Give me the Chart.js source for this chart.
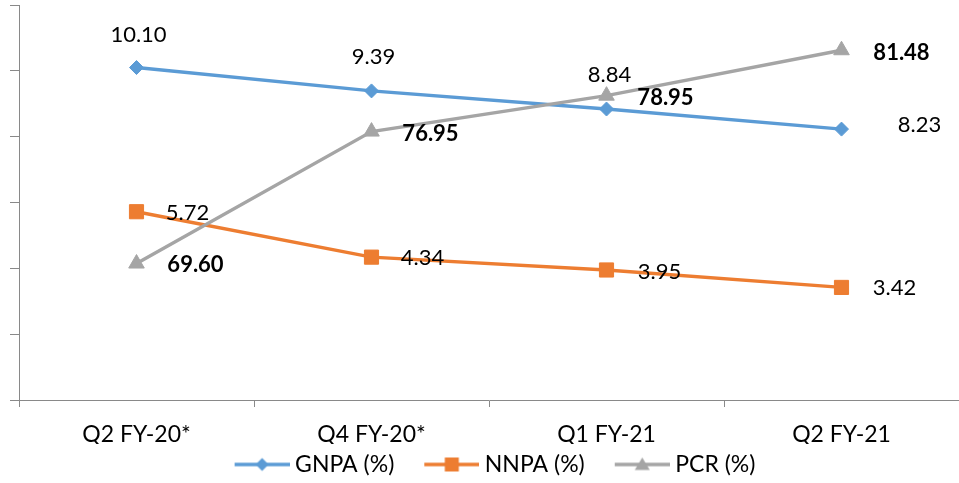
<!DOCTYPE html>
<html>
<head>
<meta charset="utf-8">
<script src="https://cdn.jsdelivr.net/npm/chart.js@4.4.1/dist/chart.umd.min.js"></script>
<style>
  html, body { margin: 0; padding: 0; background: #fff; }
  #wrap { width: 959px; height: 483px; }
</style>
</head>
<body>
<div id="wrap"><canvas id="chart" width="959" height="483"></canvas></div>
<script>
// Quarterly asset-quality figures
const categories = ['Q2 FY-20*', 'Q4 FY-20*', 'Q1 FY-21', 'Q2 FY-21'];
const gnpa = [10.10, 9.39, 8.84, 8.23];
const nnpa = [5.72, 4.34, 3.95, 3.42];
const pcr = [69.60, 76.95, 78.95, 81.48];

const BLUE = '#5B9BD5';
const ORANGE = '#ED7D31';
const GREY = '#A5A5A5';
const AXIS = '#898989';
const FONT = 'Lato, "Open Sans", sans-serif';

// Legend swatch: a short line with the series marker in its middle
function makeSwatch(color, shape) {
  const c = document.createElement('canvas');
  c.width = 82; c.height = 18;
  const g = c.getContext('2d');
  const x0 = 27, x1 = 82, cy = 9, cx = (x0 + x1) / 2;
  g.strokeStyle = color; g.lineWidth = 3.3;
  g.beginPath(); g.moveTo(x0, cy); g.lineTo(x1, cy); g.stroke();
  g.fillStyle = color;
  g.beginPath();
  if (shape === 'diamond') {
    g.moveTo(cx - 6.5, cy); g.lineTo(cx, cy - 6.5); g.lineTo(cx + 6.5, cy); g.lineTo(cx, cy + 6.5);
  } else if (shape === 'square') {
    g.rect(cx - 7, cy - 7, 14, 14);
  } else {
    g.moveTo(cx, cy - 7); g.lineTo(cx + 7.5, cy + 5.5); g.lineTo(cx - 7.5, cy + 5.5);
  }
  g.closePath(); g.fill();
  return c;
}
const swatches = [makeSwatch(BLUE, 'diamond'), makeSwatch(ORANGE, 'square'), makeSwatch(GREY, 'triangle')];

// Value labels placed beside each marker
const valueLabels = {
  id: 'valueLabels',
  afterDatasetsDraw(chart, args, opts) {
    const ctx = chart.ctx;
    chart.data.datasets.forEach((ds, i) => {
      const meta = chart.getDatasetMeta(i);
      const offs = opts.offsets[i];
      ctx.save();
      ctx.font = (opts.bold[i] ? 'bold ' : '') + '22px ' + FONT;
      ctx.fillStyle = '#000';
      ctx.textAlign = 'center';
      ctx.textBaseline = 'middle';
      meta.data.forEach((pt, j) => {
        ctx.fillText(ds.data[j].toFixed(2), pt.x + offs[j][0], pt.y + offs[j][1]);
      });
      ctx.restore();
    });
  }
};

new Chart(document.getElementById('chart'), {
  type: 'line',
  data: {
    labels: categories,
    datasets: [
      {
        label: 'GNPA (%)', data: gnpa, yAxisID: 'y', order: 2,
        borderColor: BLUE, backgroundColor: BLUE, borderWidth: 3.4,
        pointStyle: 'rectRot', pointRadius: 7, pointBorderWidth: 1,
        pointBackgroundColor: BLUE, pointBorderColor: BLUE
      },
      {
        label: 'NNPA (%)', data: nnpa, yAxisID: 'y', order: 1,
        borderColor: ORANGE, backgroundColor: ORANGE, borderWidth: 3.4,
        pointStyle: 'rect', pointRadius: 10, pointBorderWidth: 1,
        pointBackgroundColor: ORANGE, pointBorderColor: ORANGE
      },
      {
        label: 'PCR (%)', data: pcr, yAxisID: 'y1', order: 0,
        borderColor: GREY, backgroundColor: GREY, borderWidth: 3.4,
        pointStyle: 'triangle', pointRadius: 9, pointBorderWidth: 1,
        pointBackgroundColor: GREY, pointBorderColor: GREY
      }
    ]
  },
  options: {
    responsive: false,
    animation: false,
    layout: { autoPadding: false, padding: { left: 10, right: 0, top: 5, bottom: -3 } },
    scales: {
      x: {
        offset: true,
        grid: { offset: true, drawOnChartArea: false, drawTicks: true, tickLength: 7, color: AXIS },
        border: { color: AXIS, width: 1 },
        ticks: { color: '#000', padding: 20, font: { family: FONT, size: 23, lineHeight: '16px' }, maxRotation: 0 },
        afterFit(scale) { scale.height = 44; }
      },
      y: {
        position: 'left',
        min: 0, max: 12,
        ticks: { stepSize: 2, display: false },
        grid: { drawOnChartArea: false, drawTicks: true, tickLength: 9, color: AXIS },
        border: { color: AXIS, width: 1 }
      },
      y1: {
        position: 'right',
        display: false,
        min: 62, max: 84
      }
    },
    plugins: {
      tooltip: { enabled: false },
      legend: {
        position: 'bottom',
        labels: {
          usePointStyle: true,
          pointStyleWidth: 70,
          padding: 9,
          color: '#000',
          font: { family: FONT, size: 23 },
          sort: (a, b) => a.datasetIndex - b.datasetIndex,
          generateLabels(chart) {
            const items = Chart.defaults.plugins.legend.labels.generateLabels(chart);
            items.forEach(it => { it.pointStyle = swatches[it.datasetIndex]; });
            return items;
          }
        }
      },
      valueLabels: {
        bold: [false, false, true],
        offsets: [
          [[2, -33], [2, -34], [3, -34], [78, -4]],
          [[51, 1], [51, 1], [53, 2], [53, 0]],
          [[59, 1], [59, 2], [59, 2], [60, 3]]
        ]
      }
    }
  },
  plugins: [valueLabels]
});
</script>
</body>
</html>
